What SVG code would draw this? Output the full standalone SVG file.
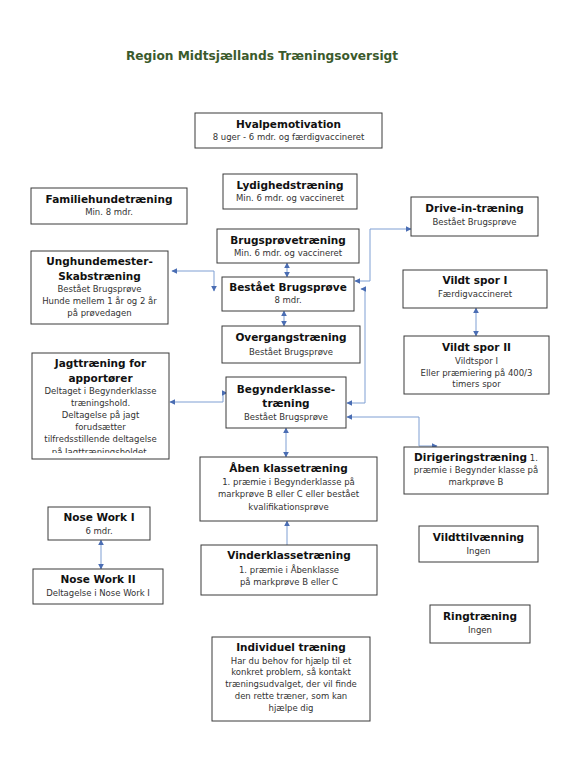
<svg xmlns="http://www.w3.org/2000/svg" width="580" height="769" viewBox="0 0 580 769">
<style>
.box{fill:#fff;stroke:#3a3a3a;stroke-width:1}
.t{font-family:"DejaVu Sans",Verdana,sans-serif;font-size:10.5px;font-weight:bold;fill:#111;text-anchor:middle}
.s{font-family:"DejaVu Sans",Verdana,sans-serif;font-size:8.5px;fill:#333;text-anchor:middle}
.c{fill:none;stroke:#7f9fd3;stroke-width:1}
</style>
<defs>
<marker id="a" viewBox="0 0 10 10" refX="9" refY="5" markerWidth="6" markerHeight="6" markerUnits="userSpaceOnUse" orient="auto-start-reverse">
<path d="M0,0 L10,5 L0,10 z" fill="#4a6db3"/>
</marker>
<clipPath id="jclip"><rect x="32" y="353" width="137" height="100"/></clipPath>
</defs>
<rect width="580" height="769" fill="#fff"/>
<text x="262" y="60" style="font-family:'DejaVu Sans',Verdana,sans-serif;font-size:12.2px;font-weight:bold;fill:#3b5a2c;text-anchor:middle">Region Midtsjællands Træningsoversigt</text>

<g id="connectors">
<path class="c" d="M172,271 H214 V291" marker-start="url(#a)" marker-end="url(#a)"/>
<path class="c" d="M287,263 V277" marker-start="url(#a)" marker-end="url(#a)"/>
<path class="c" d="M284,311 V326" marker-start="url(#a)" marker-end="url(#a)"/>
<path class="c" d="M411,229 H370 V281 H355" marker-start="url(#a)" marker-end="url(#a)"/>
<path class="c" d="M361,289 H365 V403 H347" marker-start="url(#a)" marker-end="url(#a)"/>
<path class="c" d="M476,308 V336" marker-start="url(#a)" marker-end="url(#a)"/>
<path class="c" d="M170,402 H223 V393 H227" marker-start="url(#a)" marker-end="url(#a)"/>
<path class="c" d="M437,446 H419 V417 H347" marker-start="url(#a)" marker-end="url(#a)"/>
<path class="c" d="M286,428 V457" marker-start="url(#a)" marker-end="url(#a)"/>
<path class="c" d="M287,521 V548 H292" marker-start="url(#a)" marker-end="url(#a)"/>
<path class="c" d="M101,540 V569" marker-start="url(#a)" marker-end="url(#a)"/>
</g>

<g id="hvalpemotivation">
<rect class="box" x="195" y="113" width="187" height="35"/>
<text class="t" x="288.5" y="128">Hvalpemotivation</text>
<text class="s" x="288.5" y="140">8 uger - 6 mdr. og færdigvaccineret</text>
</g>
<g id="lydighed">
<rect class="box" x="223" y="174" width="134" height="35"/>
<text class="t" x="290" y="189">Lydighedstræning</text>
<text class="s" x="290" y="201">Min. 6 mdr. og vaccineret</text>
</g>
<g id="familiehund">
<rect class="box" x="31" y="188" width="156" height="36"/>
<text class="t" x="109" y="203">Familiehundetræning</text>
<text class="s" x="109" y="215">Min. 8 mdr.</text>
</g>
<g id="unghund">
<rect class="box" x="31" y="251" width="137" height="73"/>
<text class="t" x="99.5" y="265">Unghundemester-</text>
<text class="t" x="99.5" y="280">Skabstræning</text>
<text class="s" x="99.5" y="292">Bestået Brugsprøve</text>
<text class="s" x="99.5" y="304">Hunde mellem 1 år og 2 år</text>
<text class="s" x="99.5" y="316">på prøvedagen</text>
</g>
<g id="brugsproeve">
<rect class="box" x="217" y="229" width="142" height="34"/>
<text class="t" x="288" y="244">Brugsprøvetræning</text>
<text class="s" x="288" y="256">Min. 6 mdr. og vaccineret</text>
</g>
<g id="bestaaet">
<rect class="box" x="222" y="277" width="132" height="34"/>
<text class="t" x="288" y="291">Bestået Brugsprøve</text>
<text class="s" x="288" y="303">8 mdr.</text>
</g>
<g id="overgang">
<rect class="box" x="222" y="326" width="138" height="37"/>
<text class="t" x="291" y="341">Overgangstræning</text>
<text class="s" x="291" y="355">Bestået Brugsprøve</text>
</g>
<g id="drivein">
<rect class="box" x="411" y="197" width="127" height="39"/>
<text class="t" x="474.5" y="212">Drive-in-træning</text>
<text class="s" x="474.5" y="225">Bestået Brugsprøve</text>
</g>
<g id="vildtspor1">
<rect class="box" x="403" y="270" width="144" height="38"/>
<text class="t" x="475" y="284">Vildt spor I</text>
<text class="s" x="475" y="297">Færdigvaccineret</text>
</g>
<g id="vildtspor2">
<rect class="box" x="404" y="336" width="145" height="58"/>
<text class="t" x="476.5" y="351">Vildt spor II</text>
<text class="s" x="476.5" y="364">Vildtspor I</text>
<text class="s" x="476.5" y="376">Eller præmiering på 400/3</text>
<text class="s" x="476.5" y="387">timers spor</text>
</g>
<g id="jagttraening">
<rect class="box" x="32" y="353" width="137" height="106"/>
<g clip-path="url(#jclip)">
<text class="t" x="100.5" y="367">Jagttræning for</text>
<text class="t" x="100.5" y="382">apportører</text>
<text class="s" x="100.5" y="394">Deltaget i Begynderklasse</text>
<text class="s" x="100.5" y="406">træningshold.</text>
<text class="s" x="100.5" y="418">Deltagelse på jagt</text>
<text class="s" x="100.5" y="430">forudsætter</text>
<text class="s" x="100.5" y="442">tilfredsstillende deltagelse</text>
<text class="s" x="100.5" y="455">på Jagttræningsholdet.</text>
</g>
</g>
<g id="begynder">
<rect class="box" x="226" y="377" width="120" height="51"/>
<text class="t" x="286" y="393">Begynderklasse-</text>
<text class="t" x="286" y="407">træning</text>
<text class="s" x="286" y="420">Bestået Brugsprøve</text>
</g>
<g id="dirigering">
<rect class="box" x="404" y="447" width="144" height="47"/>
<text x="476" y="461" style="font-family:'DejaVu Sans',Verdana,sans-serif;text-anchor:middle"><tspan style="font-size:10.5px;font-weight:bold;fill:#111">Dirigeringstræning</tspan><tspan style="font-size:8.5px;fill:#333"> 1.</tspan></text>
<text class="s" x="476" y="473">præmie i Begynder klasse på</text>
<text class="s" x="476" y="485">markprøve B</text>
</g>
<g id="aaben">
<rect class="box" x="200" y="457" width="177" height="64"/>
<text class="t" x="288.5" y="472">Åben klassetræning</text>
<text class="s" x="288.5" y="485">1. præmie i Begynderklasse på</text>
<text class="s" x="288.5" y="497">markprøve B eller C eller bestået</text>
<text class="s" x="288.5" y="510">kvalifikationsprøve</text>
</g>
<g id="vinder">
<rect class="box" x="201" y="545" width="176" height="50"/>
<text class="t" x="289" y="559">Vinderklassetræning</text>
<text class="s" x="289" y="573">1. præmie i Åbenklasse</text>
<text class="s" x="289" y="585">på markprøve B eller C</text>
</g>
<g id="nosework1">
<rect class="box" x="48" y="507" width="102" height="33"/>
<text class="t" x="99" y="521">Nose Work I</text>
<text class="s" x="99" y="534">6 mdr.</text>
</g>
<g id="nosework2">
<rect class="box" x="33" y="569" width="130" height="35"/>
<text class="t" x="98" y="583">Nose Work II</text>
<text class="s" x="98" y="596">Deltagelse i Nose Work I</text>
</g>
<g id="vildttilvaenning">
<rect class="box" x="419" y="526" width="119" height="36"/>
<text class="t" x="478.5" y="541">Vildttilvænning</text>
<text class="s" x="478.5" y="554">Ingen</text>
</g>
<g id="ringtraening">
<rect class="box" x="430" y="605" width="100" height="38"/>
<text class="t" x="480" y="620">Ringtræning</text>
<text class="s" x="480" y="633">Ingen</text>
</g>
<g id="individuel">
<rect class="box" x="212" y="637" width="158" height="84"/>
<text class="t" x="291" y="651">Individuel træning</text>
<text class="s" x="291" y="664">Har du behov for hjælp til et</text>
<text class="s" x="291" y="675">konkret problem, så kontakt</text>
<text class="s" x="291" y="687">træningsudvalget, der vil finde</text>
<text class="s" x="291" y="699">den rette træner, som kan</text>
<text class="s" x="291" y="711">hjælpe dig</text>
</g>
</svg>
